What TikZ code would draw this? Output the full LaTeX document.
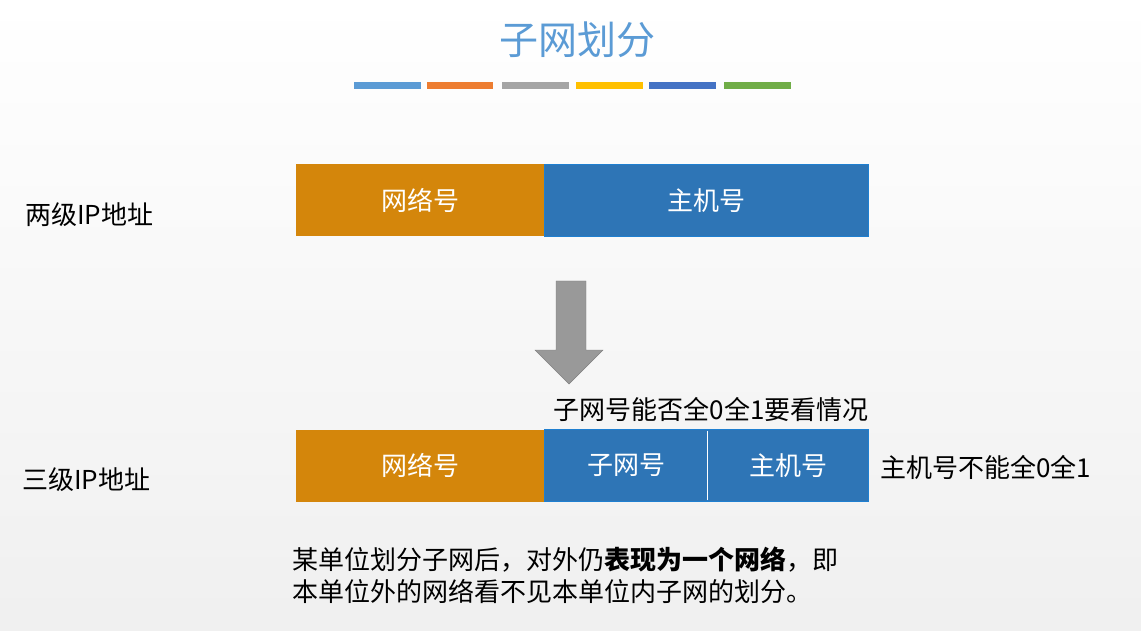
\documentclass[tikz,border=0pt]{standalone}
\usepackage{fontspec}
\setmainfont{Noto Sans CJK SC}
\definecolor{tblue}{HTML}{5B9BD5}
\definecolor{c1}{HTML}{5B9BD5}\definecolor{c2}{HTML}{ED7D31}\definecolor{c3}{HTML}{A5A5A5}
\definecolor{c4}{HTML}{FFC000}\definecolor{c5}{HTML}{4472C4}\definecolor{c6}{HTML}{70AD47}
\definecolor{org}{HTML}{D4860B}\definecolor{blu}{HTML}{2E75B6}\definecolor{bord}{HTML}{1F7FD0}
\begin{document}
\begin{tikzpicture}[x=1pt,y=-1pt,
 fs/.style={font=\fontsize{26}{30}\selectfont},
 box/.style={fs,text=white,inner sep=0pt,minimum height=72pt},
 lbl/.style={fs,anchor=west,inner sep=0pt}]
\useasboundingbox (0,0) rectangle (1141,631);
\shade[top color=white,bottom color=black!6] (0,0) rectangle (1141,631);
\node[font=\fontsize{39}{44}\selectfont,text=tblue] (title) at (577,40) {子网划分};
\foreach \a/\b/\c in {354/421/c1,427/493/c2,502/569/c3,576/643/c4,649/716/c5,724/791/c6}
  \fill[\c] (\a,82) rectangle (\b,89);
\node[box,fill=org,minimum width=248pt] (n1) at (420,200.5) {网络号};
\node[box,fill=blu,draw=bord,minimum width=324pt] (h1) at (706,200.5) {主机号};
\node[lbl] (l1) at (25,215) {两级IP地址};
\fill[black!40,draw=black!50] (556,281) -- (586,281) -- (586,350) -- (603,350) -- (569,384) -- (535,350) -- (556,350) -- cycle;
\node[fs,inner sep=0pt] (q) at (711,410) {子网号能否全0全1要看情况};
\node[box,fill=org,minimum width=248pt] (n2) at (420,465.5) {网络号};
\node[box,fill=blu,draw=bord,minimum width=163pt] (s2) at (626,465.5) {子网号};
\node[box,fill=blu,draw=bord,minimum width=161pt] (h2) at (788,465.5) {主机号};
\draw[white,line width=1.5pt] (707.5,431) -- (707.5,500);
\node[lbl] (l2) at (22,480) {三级IP地址};
\node[lbl] (r2) at (880,467) {主机号不能全0全1};
\node[lbl] (t1) at (292,560) {某单位划分子网后，对外仍\textbf{表现为一个网络}，即};
\node[lbl] (t2) at (292,591) {本单位外的网络看不见本单位内子网的划分。};
\end{tikzpicture}
\end{document}
